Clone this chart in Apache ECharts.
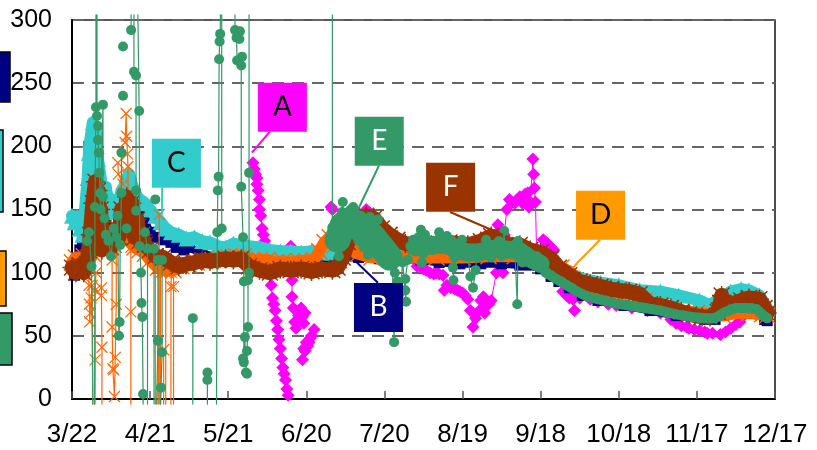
<!DOCTYPE html>
<html><head><meta charset="utf-8">
<script src="https://cdn.jsdelivr.net/npm/echarts@6/dist/echarts.min.js"></script>
<style>html,body{margin:0;padding:0;background:#fff}#c{width:817px;height:450px}</style>
</head><body><div id="c"></div>
<script>
const xTickLabels=['3/22','4/21','5/21','6/20','7/20','8/19','9/18','10/18','11/17','12/17'];
const yTicks=[0,50,100,150,200,250,300];
const A=[[69.5,187],[70,182],[70.5,178],[71,175],[71,170],[71.5,165],[72,158],[72,150],[72.5,145],[73,135],[73.5,130],[74,125],[74.5,118],[75,112],[75.5,106],[76,100],[76.5,90],[77,80],[77.5,75],[78,70],[78.5,62],[79,55],[79.5,47],[80,40],[80.5,32],[81,25],[81.5,20],[82,15],[82.5,8],[83,3],null,[84,121],[84.5,94],[84.5,81],[85,72],[85.5,61],[86,56],[87,66],[88,72],[88.5,65],[89,60],[89.5,68],null,[88.5,31],[89,40],[89.5,38],[90,45],[90.5,42],[91,45],[91.5,48],[92,50],[93,55],null,[99.5,152],[100,150],null,[113,150],[114,148],null,[132.5,105],[134,104],[135,103],[136,102],[137.5,100],[139,99],[140,100],[141,99],[142.5,98],[143,86],[144,90],[145.5,88],[147,87],[148,86],[149,85],[150,84],[151,82],[152,79],[153,70],[154,57],[155,64],[155.5,68],[157,78],[157.5,72],[158,81],[158.5,68],[159,78],[160,75],[161,78],[163,100],[163.6,138],[164.5,134],[165,130],null,[165.5,100],[166,130],[167,150],[168,158],[169,156],[170,155],[171,158],[172,160],[173,155],[174,162],[175,163],[175.5,152],[176,156],[177,190],[177.3,178],[177.6,167],[178,156],[178.5,110],null,[181,126],[182,124],[183,122],[184,120],[185,118],[186,108],[187,95],[188.5,85],[190,82],[191,80],[192.4,79],[193,70],null,[195,80],[199,79],[202,77],[206,75],[209,74],[215,72],[221,70],[226,68],[230,63],[232,60],[234,58],[236,57],[237,56],[239,55],[241,54],[243,53],[244,52],[246,52],[249,51],[251,53],[253,56],[255,59],[256.5,61],[258,66],[260,71],[265,68]];
const B=[[0,105],[1,98],[2,100],[3,118],[4,125],[5,130],[6,165],[6.5,200],[7,190],[8,195],[9,185],[10,170],[11,150],[13,140],[15,135],[20,140],[22,150],[24,150],[26,148],[28,140],[30,132],[32,128],[35,126],[38,124],[40,120],[43,118],[45,120],[50,115],[56,112],[65,110],[72,108],[80,108],[90,108],[97,108],[100,110],[104,112],[110,112],[118,111],[126,111],[134,110],[141,108],[149,107],[157,107],[165,107],[172,106],[176,106],[180,103],[184,97],[187,93],[191,88],[196,82],[202,78],[212,74],[222,70],[232,66],[243,63],[247,63],[252,70],[259,71],[263,70],[266,63],[267,62]];
const C=[[0,145],[1,140],[2,144],[3,135],[4,130],[5,150],[6,175],[6.5,195],[7,205],[8,219],[9,215],[9.5,200],[10,190],[11,175],[12,160],[13,168],[14,150],[15,158],[16,150],[17,148],[18,155],[19,165],[20,168],[21,175],[22,178],[23,170],[24,165],[25,160],[26,158],[28,155],[30,150],[32,145],[34,140],[36,135],[38,132],[41,130],[44,127],[47,128],[50,125],[53,124],[56,121],[59,120],[62,123],[65,122],[68,121],[72,120],[76,118],[80,117],[84,117],[88,116],[92,117],[96,116],[100,116],[104,116],[115,117],[120,118],[126,118],[134,117],[145,118],[157,118],[172,117],[180,110],[187,103],[195,96],[203,92],[210,90],[218,86],[226,85],[233,82],[241,78],[245,74],[249,80],[253,85],[257,87],[260,86],[264,82],[267,72]];
const Dband=[[0,108],[1.5,112],[3,108],[4.5,113],[6,106],[8,115],[10,125],[12,118],[14,128],[16,122],[18,132],[20,128],[22,125],[24,120],[26,118],[28,115],[30,110],[33,104],[36,102],[39,102],[42,105],[45,106],[48,108],[51,109],[54,110],[57,111],[60,112],[63,113],[66,113],[69,110],[72,110],[75,110],[78,108],[81,109],[84,108],[87,109],[90,109],[93,110],[95,117],[97,124],[99,128],[101,122],[103,130],[105,118],[108,120],[110,115],[115,112],[120,113],[130,112],[140,112],[150,112],[160,113],[170,113],[178,112],[184,107],[188,104],[191,101],[195,93],[200,87],[205,85],[210,84],[215,83],[220,78],[230,72],[240,68],[250,66],[255,68],[260,68],[265,67],[267,66]];
const Dspikes=[[6.3,104],[6.5,90],[6.7,75],[6.8,61],[7,68],[7.3,80],[7.8,90],[8,-4],null,[8.8,-4],[8.9,31],[8.9,86],[9.2,100],null,[11.3,120],[11.3,88],[11.3,82],[11.5,41],[11.5,-4],null,[15.4,110],[15.4,57],[15.7,24],[16,23],[16.3,2],[16.6,33],[17,75],[17,120],null,[17.6,187],[17.8,178],[19.6,170],null,[20.4,203],[20.8,226],[21,208],[21.3,194],[21.5,184],[21.5,135],null,[22.6,120],[22.6,69],[22.6,-4],null,[32,110],[32,-4],null,[33,-4],[33.5,146],[33.5,-4],null,[34,-4],[34,100],null,[35.2,39],[35.2,-4],null,[36,-4],[36,100],null,[38,-4],[38,89],[38.2,100],null,[39,-4],[39,89],[39,105]];
const E=[[5.8,125],[6.5,132],[7.5,105],[8,-4],null,[8.7,-4],[8.8,152],[9.2,231],[9.2,304],null,[9.6,304],[9.6,224],[10,216],[10,205],[10.3,195],[10.5,179],[10.8,163],[11,150],[11.9,233],[11.9,160],[12.5,143],[13,130],[14,125],[15,113],[16,135],[17,128],[17.5,145],[18,50],[18.3,61],[18.5,122],[19,163],[19,195],null,[19.6,240],null,[19.6,279],null,[21,135],null,[22.7,304],[22.7,292],null,[23.8,304],[23.8,259],[24.6,256],[24.6,165],[24.6,149],null,[25.3,304],[25.8,228],[26,121],[26.5,100],[26.7,76],[27,65],[27.3,4],[27.3,-4],null,[28,132],[29,119],[29,-4],null,[31.5,119],[31.5,-4],null,[32,158],null,[32.5,-4],[33,46],[33,110],null,[34,-4],[34.2,9],[34.6,37],[34.6,110],null,[46.4,64],[46.4,-4],null,[52,21],[52,15],[52,-4],null,[55.5,-4],[55.8,132],[56,165],[56.3,176],[56.5,269],[56.7,283],[56.9,289],[57,304],null,[57.5,304],[57.5,135],null,[62.6,304],[62.6,292],[63.2,286],[63.4,268],null,[64.3,285],[64.5,291],null,[65.3,271],[65,264],[65,168],[65.7,128],[66,93],[66,29],[65.7,32],[66.4,49],[66.8,21],[67.2,20],[67.2,38],[67.6,57],[67.6,94],null,[68,304],[68,179],[68,100],null,[100,304],[100,136],[101,128],[102,132],[102,121],[102.5,113],[103,140],[103.7,148],[104,156],[104.5,125],[105,145],[105.6,144],[106,130],[107,150],[108,152],[108.5,138],[109.4,137],[110,125],[111,145],[112,120],[113,132],[113.7,114],[114.4,144],[115,130],[116,120],[117.5,142],[118,130],[119.4,126],[119.4,109],[120,120],[121,116],[122,108],[123,112],[123.7,45],[124,100],[125,93],[126,84],[127,108],[128,86],[128.3,77],[128,95],[129,110],[130,121],[131,126],[132,118],[133,128],[134,134],[134.4,108],[135,115],[135.6,130],[136,122],[137,118],[138.6,118],[139,125],[140,120],[141,132],[142,120],[143,122],[144,129],[145,118],[146,125],[146.3,104],[146.5,94],[147,112],[148,122],[149.8,126],[150.5,118],[152,113],[153,97],[154,88],[155,102],[155.5,112],[156,118],[158,115],[159,126],[160,120],[161,112],[162,122],[163,118],[164,125],[165,113],[166,133],[166.5,116],[168,120],[169,115],[170,122],[171,75],[171.3,125],[172,112],[173,108],[175,110],[176,112],[178.6,113],[180,107],[182,100],[184,98],[186,95],[188,93],[190,90],[192,88],[194,85],[196,83],[198,81],[200,80],[202,79],[205,78],[208,76],[211,75],[214,74],[217,73],[220,72],[223,71],[226,70],[229,68],[232,67],[235,66],[238,65],[241,64],[244,64],[247,64],[249,66],[251,69],[253,71],[255,72],[257,72],[259,72],[261,72],[263,71],[265,67],[266,65],[267,64]];
const EclusterEarly=[[102,126],[104,138],[107,142],[111,134],[115,130],[119,120],[122,112]];
const Ecluster=[[132,120],[136,122],[140,122],[144,122],[148,118],[152,116],[156,116],[160,118],[164,119],[168,118],[172,117],[176,111],[180,107]];
const Etail=[[180,107],[182,100],[186,95],[190,90],[194,85],[198,81],[202,79],[208,76],[214,74],[220,72],[226,70],[232,67],[238,65],[244,64],[247,64],[251,69],[255,72],[259,72],[263,71],[265,67],[267,64]];
const F=[[0,104],[1.5,100],[3,106],[4.5,100],[6,112],[7,130],[8,155],[9,172],[9.5,150],[10,165],[10.5,130],[11,150],[11.5,118],[12,135],[13,125],[15,120],[17,135],[18,128],[19,150],[20,135],[21,160],[22,138],[23,155],[24,128],[25,142],[26,125],[27,130],[28,122],[30,118],[32,113],[35,112],[38,108],[41,105],[44,107],[47,108],[50,110],[53,109],[56,110],[59,111],[62,110],[65,111],[68,105],[72,102],[76,100],[80,103],[84,102],[88,103],[92,101],[96,103],[100,102],[102,104],[104,112],[106,124],[108,135],[110,140],[113,145],[116,143],[119,135],[122,130],[125,126],[128,123],[132,122],[138,122],[145,124],[152,122],[157,125],[161,129],[164,126],[168,122],[172,122],[176,118],[180,116],[184,111],[187,104],[191,98],[195,93],[199,91],[203,89],[207,87],[210,86],[214,85],[218,83],[222,75],[226,74],[230,72],[234,69],[237,67],[242,65],[245,65],[248,69],[249,76],[249.5,82],[250,76],[253,75],[257,78],[260,80],[264,79],[266,72],[267,68]];
const calloutNames=['A','B','C','D','E','F'];
const calloutDays=[80.8,117.7,40.1,203,118,145.4];
const calloutValues=[231,72.5,186.6,145.4,204,167.6];
const leaderDays=[[76,69.1],[117.5,109.4],[34.6,34.6],[202.8,193.2],[117.9,109.4],[145.2,165.5]];
const leaderValues=[[211.6,195],[92,108],[167,146],[126,106],[184.7,148],[148,130]];
const colA='#FF00FF',colB='#000080',colC='#33CCCC',colD='#FF9900',colDmark='#FF6600',colE='#339966',colF='#993300';
const calloutColors=[colA,colB,colC,colD,colE,colF];
const calloutText=['#000','#fff','#000','#000','#fff','#fff'];
const pts=a=>a.map(p=>p===null?[NaN,NaN]:p);
const sz=s=>(v=>(v[1]>300||v[1]<0)?0:s);
const xSym='path://M0 0L10 10M10 0L0 10';
const starSym='path://M0 0L10 10M10 0L0 10M5 -1L5 11M-1 5L11 5';
function mk(name,z,data,color,symbol,size,lw,extra){
 return Object.assign({type:'line',name,z,data:pts(data),clip:false,symbol,symbolSize:sz(size),showAllSymbol:true,showSymbol:true,
  connectNulls:false,silent:true,lineStyle:{color,width:lw,join:'round',cap:'round'},itemStyle:{color},animation:false},extra||{});
}
const series=[
 mk('A',2,A,colA,'diamond',13,1),
 mk('B',3,B,colB,'rect',11,8),
 mk('C',4,C,colC,'triangle',16,12),
 mk('Dband',5,Dband,colDmark,xSym,16,12,{itemStyle:{color:'none',borderColor:colDmark,borderWidth:1.4}}),
 mk('Dspikes',5,Dspikes,colDmark,xSym,11,1.2,{itemStyle:{color:'none',borderColor:colDmark,borderWidth:1.2}}),
 mk('F',6,F,colF,starSym,19,15,{itemStyle:{color:'none',borderColor:colF,borderWidth:1.5}}),
 mk('E',7,E,colE,'circle',10,1.2),
 mk('EclusterEarly',7,EclusterEarly,colE,'none',0,26),
 mk('Ecluster',7,Ecluster,colE,'none',0,18),
 mk('Etail',7,Etail,colE,'none',0,10)
];
calloutNames.forEach((n,i)=>{
 series.push({type:'line',name:n+' leader',data:leaderDays[i].map((d,j)=>[d,leaderValues[i][j]]),symbol:'none',clip:false,silent:true,z:8,
  lineStyle:{color:calloutColors[i],width:2},animation:false});
});
series.push({type:'scatter',name:'callouts',clip:false,silent:true,z:9,symbol:'rect',symbolSize:49,animation:false,
 data:calloutNames.map((n,i)=>({value:[calloutDays[i],calloutValues[i]],name:n,itemStyle:{color:calloutColors[i],opacity:1},
  label:{show:true,position:'inside',formatter:n,color:calloutText[i],fontFamily:'Lato',fontSize:28}}))});
const chart=echarts.init(document.getElementById('c'),null,{renderer:'canvas'});
const swatch=(x,y,w,h,c)=>({type:'rect',shape:{x,y,width:w,height:h},style:{fill:c,stroke:'#000',lineWidth:1.5},silent:true});
chart.setOption({
 animation:false,backgroundColor:'#fff',
 grid:{left:72,top:20,width:703,height:379,show:true,borderColor:'#222',borderWidth:1.6,backgroundColor:'transparent'},
 xAxis:{type:'value',min:0,max:270,interval:30,
  axisLine:{show:true,onZero:false,lineStyle:{color:'#000',width:2}},
  axisTick:{show:true,inside:true,length:8,lineStyle:{color:'#555',width:1.5}},
  axisLabel:{margin:23,fontFamily:'Liberation Sans',fontSize:26,color:'#000',showMinLabel:true,showMaxLabel:true,formatter:v=>xTickLabels[v/30]},
  splitLine:{show:false}},
 yAxis:{type:'value',min:yTicks[0],max:yTicks[yTicks.length-1],interval:50,
  axisLine:{show:true,lineStyle:{color:'#000',width:2}},axisTick:{show:false},
  axisLabel:{margin:20,fontFamily:'Liberation Sans',fontSize:25,color:'#000'},
  splitLine:{show:true,lineStyle:{color:'#666',width:2,type:[12,8]}}},
 graphic:[swatch(-2,52,12,50,colB),swatch(-2,130,5,82,colC),swatch(-2,251,8,55,colD),swatch(-2,313,14,52,colE)],
 series
});
</script></body></html>
